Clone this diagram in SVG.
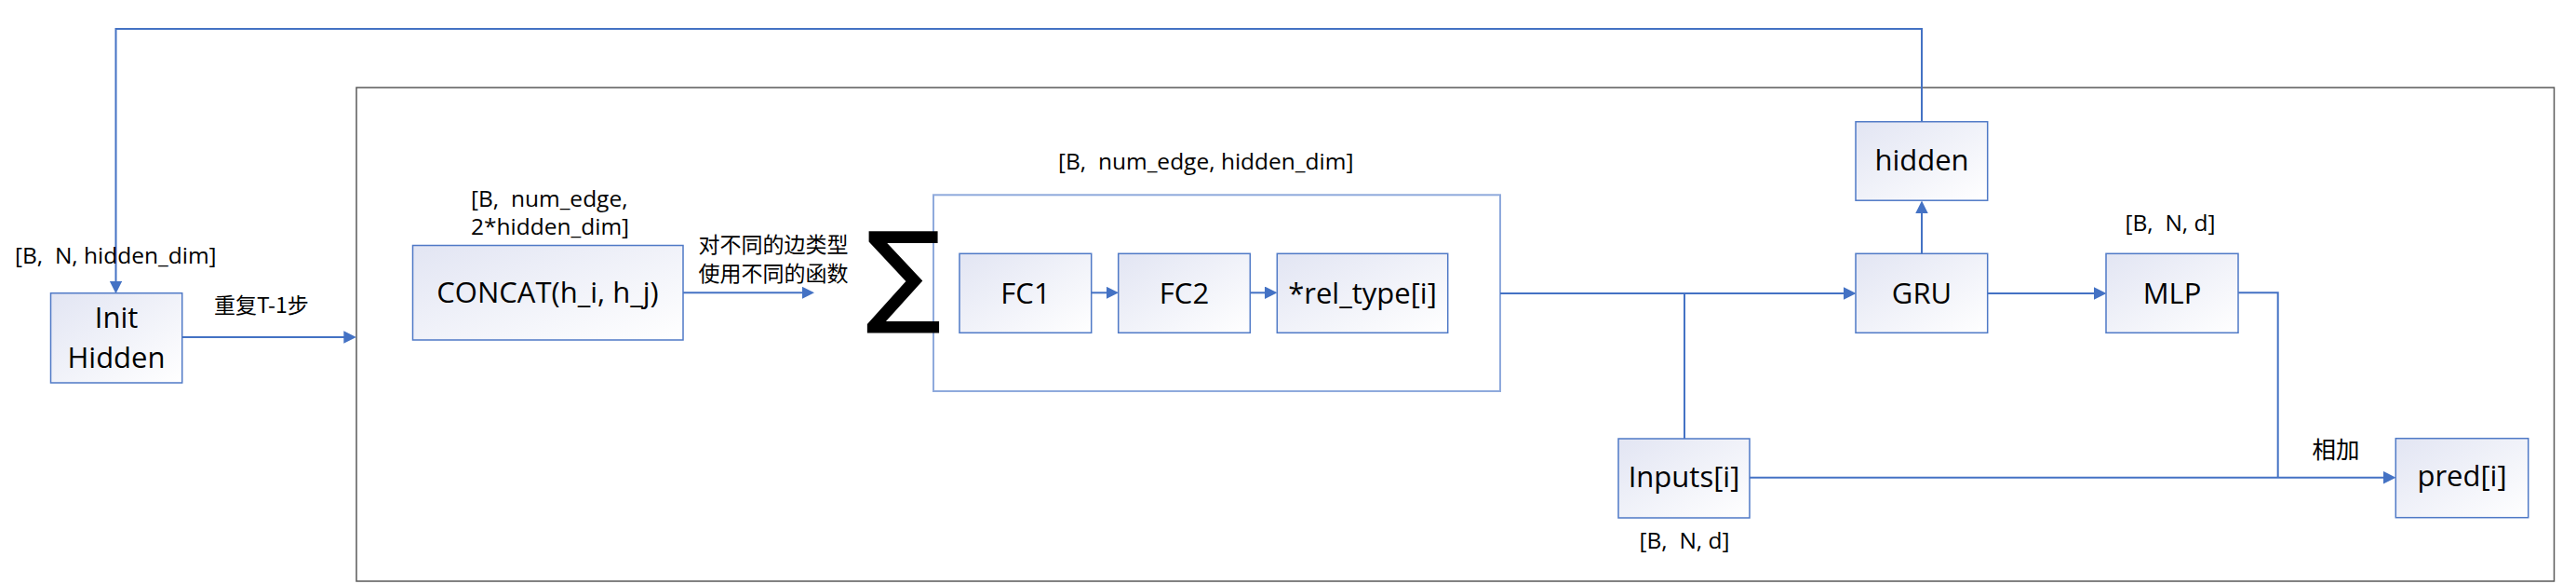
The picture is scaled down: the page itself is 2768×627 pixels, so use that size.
<svg xmlns="http://www.w3.org/2000/svg" width="2768" height="627" viewBox="0 0 2768 627">
<defs>
<linearGradient id="nodeFill" x1="0" y1="0" x2="1" y2="1">
<stop offset="0" stop-color="#E2E5F3"/>
<stop offset="1" stop-color="#FFFFFF"/>
</linearGradient>
<marker id="arrow" markerUnits="userSpaceOnUse" markerWidth="14" markerHeight="14" viewBox="0 0 14 14" refX="9" refY="6.75" orient="auto">
<path d="M0,0 L13.5,6.75 L0,13.5 z" fill="#4472C4"/>
</marker>
<style>
.node{fill:url(#nodeFill);stroke:#4F79C6;stroke-width:1.5}
.ntext{font-family:"Open Sans","Noto Sans",sans-serif;font-size:31px;fill:#000;text-anchor:middle}
.label{font-family:"Open Sans","Noto Sans",sans-serif;font-size:24.5px;fill:#000;white-space:pre}
.cjk{font-family:"Noto Sans CJK SC",sans-serif;font-size:23px;fill:#000}
.conn{fill:none;stroke:#4472C4;stroke-width:2}
.arr{marker-end:url(#arrow)}
</style>
</defs>
<rect width="2768" height="627" fill="#FFFFFF"/>

<g id="outer-frame">
<rect x="383" y="94" width="2361.5" height="530" fill="none" stroke="#595959" stroke-width="1.5"/>
</g>
<g id="edge-function-frame">
<rect x="1003" y="209.3" width="609" height="210.7" fill="none" stroke="#8FAADC" stroke-width="2"/>
</g>

<g id="connectors">
<path class="conn arr" d="M2065,130.7 V31 H124.5 V310.7"/>
<path class="conn arr" d="M195.7,362 H378.3"/>
<path class="conn arr" d="M734,314.3 H870.5"/>
<path class="conn arr" d="M1172.7,314.3 H1197.5"/>
<path class="conn arr" d="M1343.3,314.3 H1368"/>
<path class="conn arr" d="M1612,315 H1990"/>
<path class="conn" d="M1810,471 V315"/>
<path class="conn arr" d="M2065,272.3 V220"/>
<path class="conn arr" d="M2136,315 H2259"/>
<path class="conn" d="M2405,314.3 H2447.7 V512.7"/>
<path class="conn arr" d="M1880,512.7 H2570"/>
</g>

<g id="init-hidden">
<rect class="node" x="54.5" y="314.7" width="141.2" height="96.3"/>
<text class="ntext" x="125" y="351.7">Init</text>
<text class="ntext" x="125" y="395">Hidden</text>
</g>
<text class="label" x="16" y="283">[B,  N, hidden_dim]</text>
<text class="cjk" x="230" y="336">重复T-1步</text>

<g id="concat">
<rect class="node" x="443.5" y="263.5" width="290.5" height="101.5"/>
<text class="ntext" x="588.5" y="325">CONCAT(h_i, h_j)</text>
</g>
<text class="label" x="506" y="222">[B,  num_edge,</text>
<text class="label" x="506" y="252">2*hidden_dim]</text>
<text class="cjk" x="750.5" y="271">对不同的边类型</text>
<text class="cjk" x="750.5" y="301.5">使用不同的函数</text>

<g id="sum">
<text x="971" y="334" font-family="DejaVu Sans,sans-serif" font-size="118" text-anchor="middle" fill="#000" stroke="#000" stroke-width="1.5">∑</text>
</g>

<text class="label" x="1137" y="182">[B,  num_edge, hidden_dim]</text>

<g id="fc1">
<rect class="node" x="1031" y="272.3" width="141.7" height="85"/>
<text class="ntext" x="1102" y="325.5">FC1</text>
</g>
<g id="fc2">
<rect class="node" x="1201.7" y="272.3" width="141.6" height="85"/>
<text class="ntext" x="1272.5" y="325.5">FC2</text>
</g>
<g id="rel-type">
<rect class="node" x="1372.3" y="272.3" width="183.4" height="85"/>
<text class="ntext" x="1464" y="325.5">*rel_type[i]</text>
</g>

<g id="hidden">
<rect class="node" x="1994" y="130.7" width="141.7" height="84.5"/>
<text class="ntext" x="2065" y="183.3">hidden</text>
</g>
<g id="gru">
<rect class="node" x="1994" y="272.3" width="141.7" height="85"/>
<text class="ntext" x="2065" y="325.5">GRU</text>
</g>
<g id="mlp">
<rect class="node" x="2263" y="272.3" width="142" height="85"/>
<text class="ntext" x="2334" y="325.5">MLP</text>
</g>
<text class="label" x="2283.5" y="248">[B,  N, d]</text>

<g id="inputs">
<rect class="node" x="1739" y="471" width="141" height="85"/>
<text class="ntext" x="1809.5" y="523">Inputs[i]</text>
</g>
<text class="label" x="1761.5" y="589">[B,  N, d]</text>

<text class="cjk" x="2484.5" y="491.5" style="font-size:25.5px">相加</text>

<g id="pred">
<rect class="node" x="2574.3" y="470.7" width="142.4" height="85"/>
<text class="ntext" x="2645.5" y="522">pred[i]</text>
</g>
</svg>
